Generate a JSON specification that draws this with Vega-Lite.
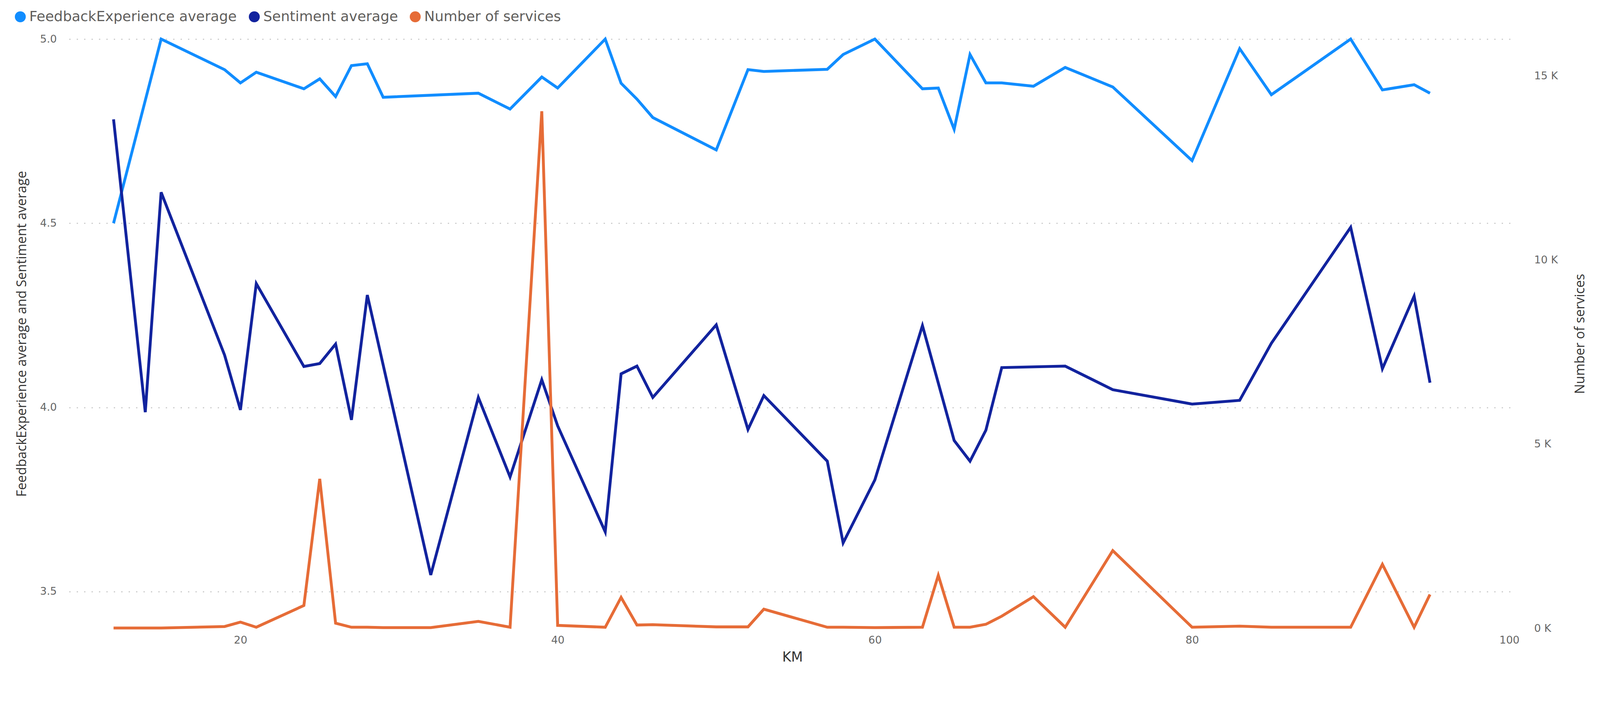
{
  "$schema": "https://vega.github.io/schema/vega-lite/v6.json",
  "width": 3703,
  "height": 1508,
  "autosize": {"type": "none"},
  "padding": {"left": 177, "top": 100, "right": 216, "bottom": 115},
  "background": "white",
  "config": {
    "font": "Open Sans",
    "view": {"stroke": null},
    "axis": {
      "labelColor": "#666666",
      "labelFont": "DejaVu Sans",
      "titleColor": "#333333",
      "titleFontWeight": "normal",
      "labelFontSize": 27,
      "titleFontSize": 34,
      "domain": false,
      "ticks": false,
      "grid": false
    }
  },
  "data": {
    "values": [
      {"KM": 12, "series": "FeedbackExperience average", "value": 4.5},
      {"KM": 15, "series": "FeedbackExperience average", "value": 5.0},
      {"KM": 19, "series": "FeedbackExperience average", "value": 4.917},
      {"KM": 20, "series": "FeedbackExperience average", "value": 4.881},
      {"KM": 21, "series": "FeedbackExperience average", "value": 4.91},
      {"KM": 24, "series": "FeedbackExperience average", "value": 4.865},
      {"KM": 25, "series": "FeedbackExperience average", "value": 4.892},
      {"KM": 26, "series": "FeedbackExperience average", "value": 4.844},
      {"KM": 27, "series": "FeedbackExperience average", "value": 4.928},
      {"KM": 28, "series": "FeedbackExperience average", "value": 4.933},
      {"KM": 29, "series": "FeedbackExperience average", "value": 4.842},
      {"KM": 35, "series": "FeedbackExperience average", "value": 4.853},
      {"KM": 37, "series": "FeedbackExperience average", "value": 4.81},
      {"KM": 39, "series": "FeedbackExperience average", "value": 4.897},
      {"KM": 40, "series": "FeedbackExperience average", "value": 4.867},
      {"KM": 43, "series": "FeedbackExperience average", "value": 5.0},
      {"KM": 44, "series": "FeedbackExperience average", "value": 4.88},
      {"KM": 45, "series": "FeedbackExperience average", "value": 4.837},
      {"KM": 46, "series": "FeedbackExperience average", "value": 4.787},
      {"KM": 50, "series": "FeedbackExperience average", "value": 4.699},
      {"KM": 52, "series": "FeedbackExperience average", "value": 4.917},
      {"KM": 53, "series": "FeedbackExperience average", "value": 4.912},
      {"KM": 57, "series": "FeedbackExperience average", "value": 4.918},
      {"KM": 58, "series": "FeedbackExperience average", "value": 4.958},
      {"KM": 60, "series": "FeedbackExperience average", "value": 5.0},
      {"KM": 63, "series": "FeedbackExperience average", "value": 4.865},
      {"KM": 64, "series": "FeedbackExperience average", "value": 4.867},
      {"KM": 65, "series": "FeedbackExperience average", "value": 4.755},
      {"KM": 66, "series": "FeedbackExperience average", "value": 4.958},
      {"KM": 67, "series": "FeedbackExperience average", "value": 4.881},
      {"KM": 68, "series": "FeedbackExperience average", "value": 4.881},
      {"KM": 70, "series": "FeedbackExperience average", "value": 4.872},
      {"KM": 72, "series": "FeedbackExperience average", "value": 4.923},
      {"KM": 75, "series": "FeedbackExperience average", "value": 4.87},
      {"KM": 80, "series": "FeedbackExperience average", "value": 4.67},
      {"KM": 83, "series": "FeedbackExperience average", "value": 4.974},
      {"KM": 85, "series": "FeedbackExperience average", "value": 4.849},
      {"KM": 90, "series": "FeedbackExperience average", "value": 5.0},
      {"KM": 92, "series": "FeedbackExperience average", "value": 4.862},
      {"KM": 94, "series": "FeedbackExperience average", "value": 4.876},
      {"KM": 95, "series": "FeedbackExperience average", "value": 4.853},

      {"KM": 12, "series": "Sentiment average", "value": 4.782},
      {"KM": 14, "series": "Sentiment average", "value": 3.987},
      {"KM": 15, "series": "Sentiment average", "value": 4.584},
      {"KM": 19, "series": "Sentiment average", "value": 4.142},
      {"KM": 20, "series": "Sentiment average", "value": 3.993},
      {"KM": 21, "series": "Sentiment average", "value": 4.336},
      {"KM": 24, "series": "Sentiment average", "value": 4.111},
      {"KM": 25, "series": "Sentiment average", "value": 4.119},
      {"KM": 26, "series": "Sentiment average", "value": 4.172},
      {"KM": 27, "series": "Sentiment average", "value": 3.966},
      {"KM": 28, "series": "Sentiment average", "value": 4.305},
      {"KM": 32, "series": "Sentiment average", "value": 3.545},
      {"KM": 35, "series": "Sentiment average", "value": 4.027},
      {"KM": 37, "series": "Sentiment average", "value": 3.811},
      {"KM": 39, "series": "Sentiment average", "value": 4.075},
      {"KM": 40, "series": "Sentiment average", "value": 3.95},
      {"KM": 43, "series": "Sentiment average", "value": 3.662},
      {"KM": 44, "series": "Sentiment average", "value": 4.091},
      {"KM": 45, "series": "Sentiment average", "value": 4.112},
      {"KM": 46, "series": "Sentiment average", "value": 4.027},
      {"KM": 50, "series": "Sentiment average", "value": 4.224},
      {"KM": 52, "series": "Sentiment average", "value": 3.94},
      {"KM": 53, "series": "Sentiment average", "value": 4.032},
      {"KM": 57, "series": "Sentiment average", "value": 3.854},
      {"KM": 58, "series": "Sentiment average", "value": 3.632},
      {"KM": 60, "series": "Sentiment average", "value": 3.803},
      {"KM": 63, "series": "Sentiment average", "value": 4.222},
      {"KM": 65, "series": "Sentiment average", "value": 3.91},
      {"KM": 66, "series": "Sentiment average", "value": 3.854},
      {"KM": 67, "series": "Sentiment average", "value": 3.938},
      {"KM": 68, "series": "Sentiment average", "value": 4.108},
      {"KM": 72, "series": "Sentiment average", "value": 4.112},
      {"KM": 75, "series": "Sentiment average", "value": 4.048},
      {"KM": 80, "series": "Sentiment average", "value": 4.009},
      {"KM": 83, "series": "Sentiment average", "value": 4.019},
      {"KM": 85, "series": "Sentiment average", "value": 4.174},
      {"KM": 90, "series": "Sentiment average", "value": 4.489},
      {"KM": 92, "series": "Sentiment average", "value": 4.105},
      {"KM": 94, "series": "Sentiment average", "value": 4.302},
      {"KM": 95, "series": "Sentiment average", "value": 4.067},

      {"KM": 12, "series": "Number of services", "value": 10},
      {"KM": 14, "series": "Number of services", "value": 10},
      {"KM": 15, "series": "Number of services", "value": 10},
      {"KM": 19, "series": "Number of services", "value": 50},
      {"KM": 20, "series": "Number of services", "value": 170},
      {"KM": 21, "series": "Number of services", "value": 30},
      {"KM": 24, "series": "Number of services", "value": 620},
      {"KM": 25, "series": "Number of services", "value": 4060},
      {"KM": 26, "series": "Number of services", "value": 140},
      {"KM": 27, "series": "Number of services", "value": 30},
      {"KM": 28, "series": "Number of services", "value": 30},
      {"KM": 29, "series": "Number of services", "value": 20},
      {"KM": 32, "series": "Number of services", "value": 20},
      {"KM": 35, "series": "Number of services", "value": 190},
      {"KM": 37, "series": "Number of services", "value": 30},
      {"KM": 39, "series": "Number of services", "value": 14040},
      {"KM": 40, "series": "Number of services", "value": 80},
      {"KM": 43, "series": "Number of services", "value": 30},
      {"KM": 44, "series": "Number of services", "value": 840},
      {"KM": 45, "series": "Number of services", "value": 90},
      {"KM": 46, "series": "Number of services", "value": 100},
      {"KM": 50, "series": "Number of services", "value": 40},
      {"KM": 52, "series": "Number of services", "value": 40},
      {"KM": 53, "series": "Number of services", "value": 520},
      {"KM": 57, "series": "Number of services", "value": 30},
      {"KM": 58, "series": "Number of services", "value": 30},
      {"KM": 60, "series": "Number of services", "value": 20},
      {"KM": 63, "series": "Number of services", "value": 30},
      {"KM": 64, "series": "Number of services", "value": 1440},
      {"KM": 65, "series": "Number of services", "value": 30},
      {"KM": 66, "series": "Number of services", "value": 30},
      {"KM": 67, "series": "Number of services", "value": 110},
      {"KM": 68, "series": "Number of services", "value": 330},
      {"KM": 70, "series": "Number of services", "value": 860},
      {"KM": 72, "series": "Number of services", "value": 30},
      {"KM": 75, "series": "Number of services", "value": 2110},
      {"KM": 80, "series": "Number of services", "value": 30},
      {"KM": 83, "series": "Number of services", "value": 60},
      {"KM": 85, "series": "Number of services", "value": 30},
      {"KM": 90, "series": "Number of services", "value": 30},
      {"KM": 92, "series": "Number of services", "value": 1740},
      {"KM": 94, "series": "Number of services", "value": 30},
      {"KM": 95, "series": "Number of services", "value": 920}
    ]
  },
  "encoding": {
    "x": {
      "field": "KM",
      "type": "quantitative",
      "scale": {"domain": [9.2, 100.4], "nice": false, "zero": false},
      "axis": {
        "values": [20, 40, 60, 80, 100],
        "title": "KM",
        "titleFont": "DejaVu Sans",
        "titleFontSize": 35,
        "labelPadding": 17,
        "titleY": 73,
        "titleBaseline": "middle"
      }
    },
    "color": {
      "field": "series",
      "type": "nominal",
      "scale": {
        "domain": ["FeedbackExperience average", "Sentiment average", "Number of services"],
        "range": ["#118DFF", "#12239E", "#E66C37"]
      },
      "legend": {
        "orient": "none",
        "legendX": -143,
        "legendY": -75,
        "direction": "horizontal",
        "title": null,
        "symbolType": "circle",
        "symbolSize": 784,
        "symbolStrokeWidth": 0,
        "labelFont": "DejaVu Sans",
        "labelFontSize": 36,
        "labelColor": "#605E5C",
        "labelLimit": 0,
        "labelOffset": 5,
        "columnPadding": 26,
        "encode": {
          "symbols": {"update": {"fill": {"scale": "color", "field": "value"}, "opacity": {"value": 1}}}
        }
      }
    }
  },
  "layer": [
    {
      "layer": [
        {
          "transform": [{"filter": "datum.series === 'FeedbackExperience average'"}],
          "mark": {"type": "line", "strokeWidth": 7.3},
          "encoding": {
            "y": {
              "field": "value",
              "type": "quantitative",
              "scale": {"domain": [3.4, 5.0], "nice": false, "zero": false},
              "axis": {
                "values": [3.5, 4, 4.5, 5],
                "format": ".1f",
                "grid": true,
                "gridDash": [3, 16],
                "gridColor": "#c8c8c8",
                "gridWidth": 2.8,
                "labelPadding": 32,
                "title": "FeedbackExperience average and Sentiment average",
                "titleX": -121,
                "titleY": 754,
                "titleAngle": -90,
                "titleAlign": "center",
                "titleBaseline": "middle"
              }
            }
          }
        },
        {
          "transform": [{"filter": "datum.series === 'Sentiment average'"}],
          "mark": {"type": "line", "strokeWidth": 7.3},
          "encoding": {
            "y": {"field": "value", "type": "quantitative"}
          }
        }
      ]
    },
    {
      "transform": [{"filter": "datum.series === 'Number of services'"}],
      "mark": {"type": "line", "strokeWidth": 7.3},
      "encoding": {
        "y": {
          "field": "value",
          "type": "quantitative",
          "scale": {"domain": [0, 16000], "nice": false},
          "axis": {
            "orient": "right",
            "values": [0, 5000, 10000, 15000],
            "labelExpr": "(datum.value / 1000) + ' K'",
            "labelPadding": 47,
            "title": "Number of services",
            "titleX": 165,
            "titleY": 754,
            "titleAngle": -90,
            "titleAlign": "center",
            "titleBaseline": "middle"
          }
        }
      }
    }
  ],
  "resolve": {"scale": {"y": "independent"}}
}
